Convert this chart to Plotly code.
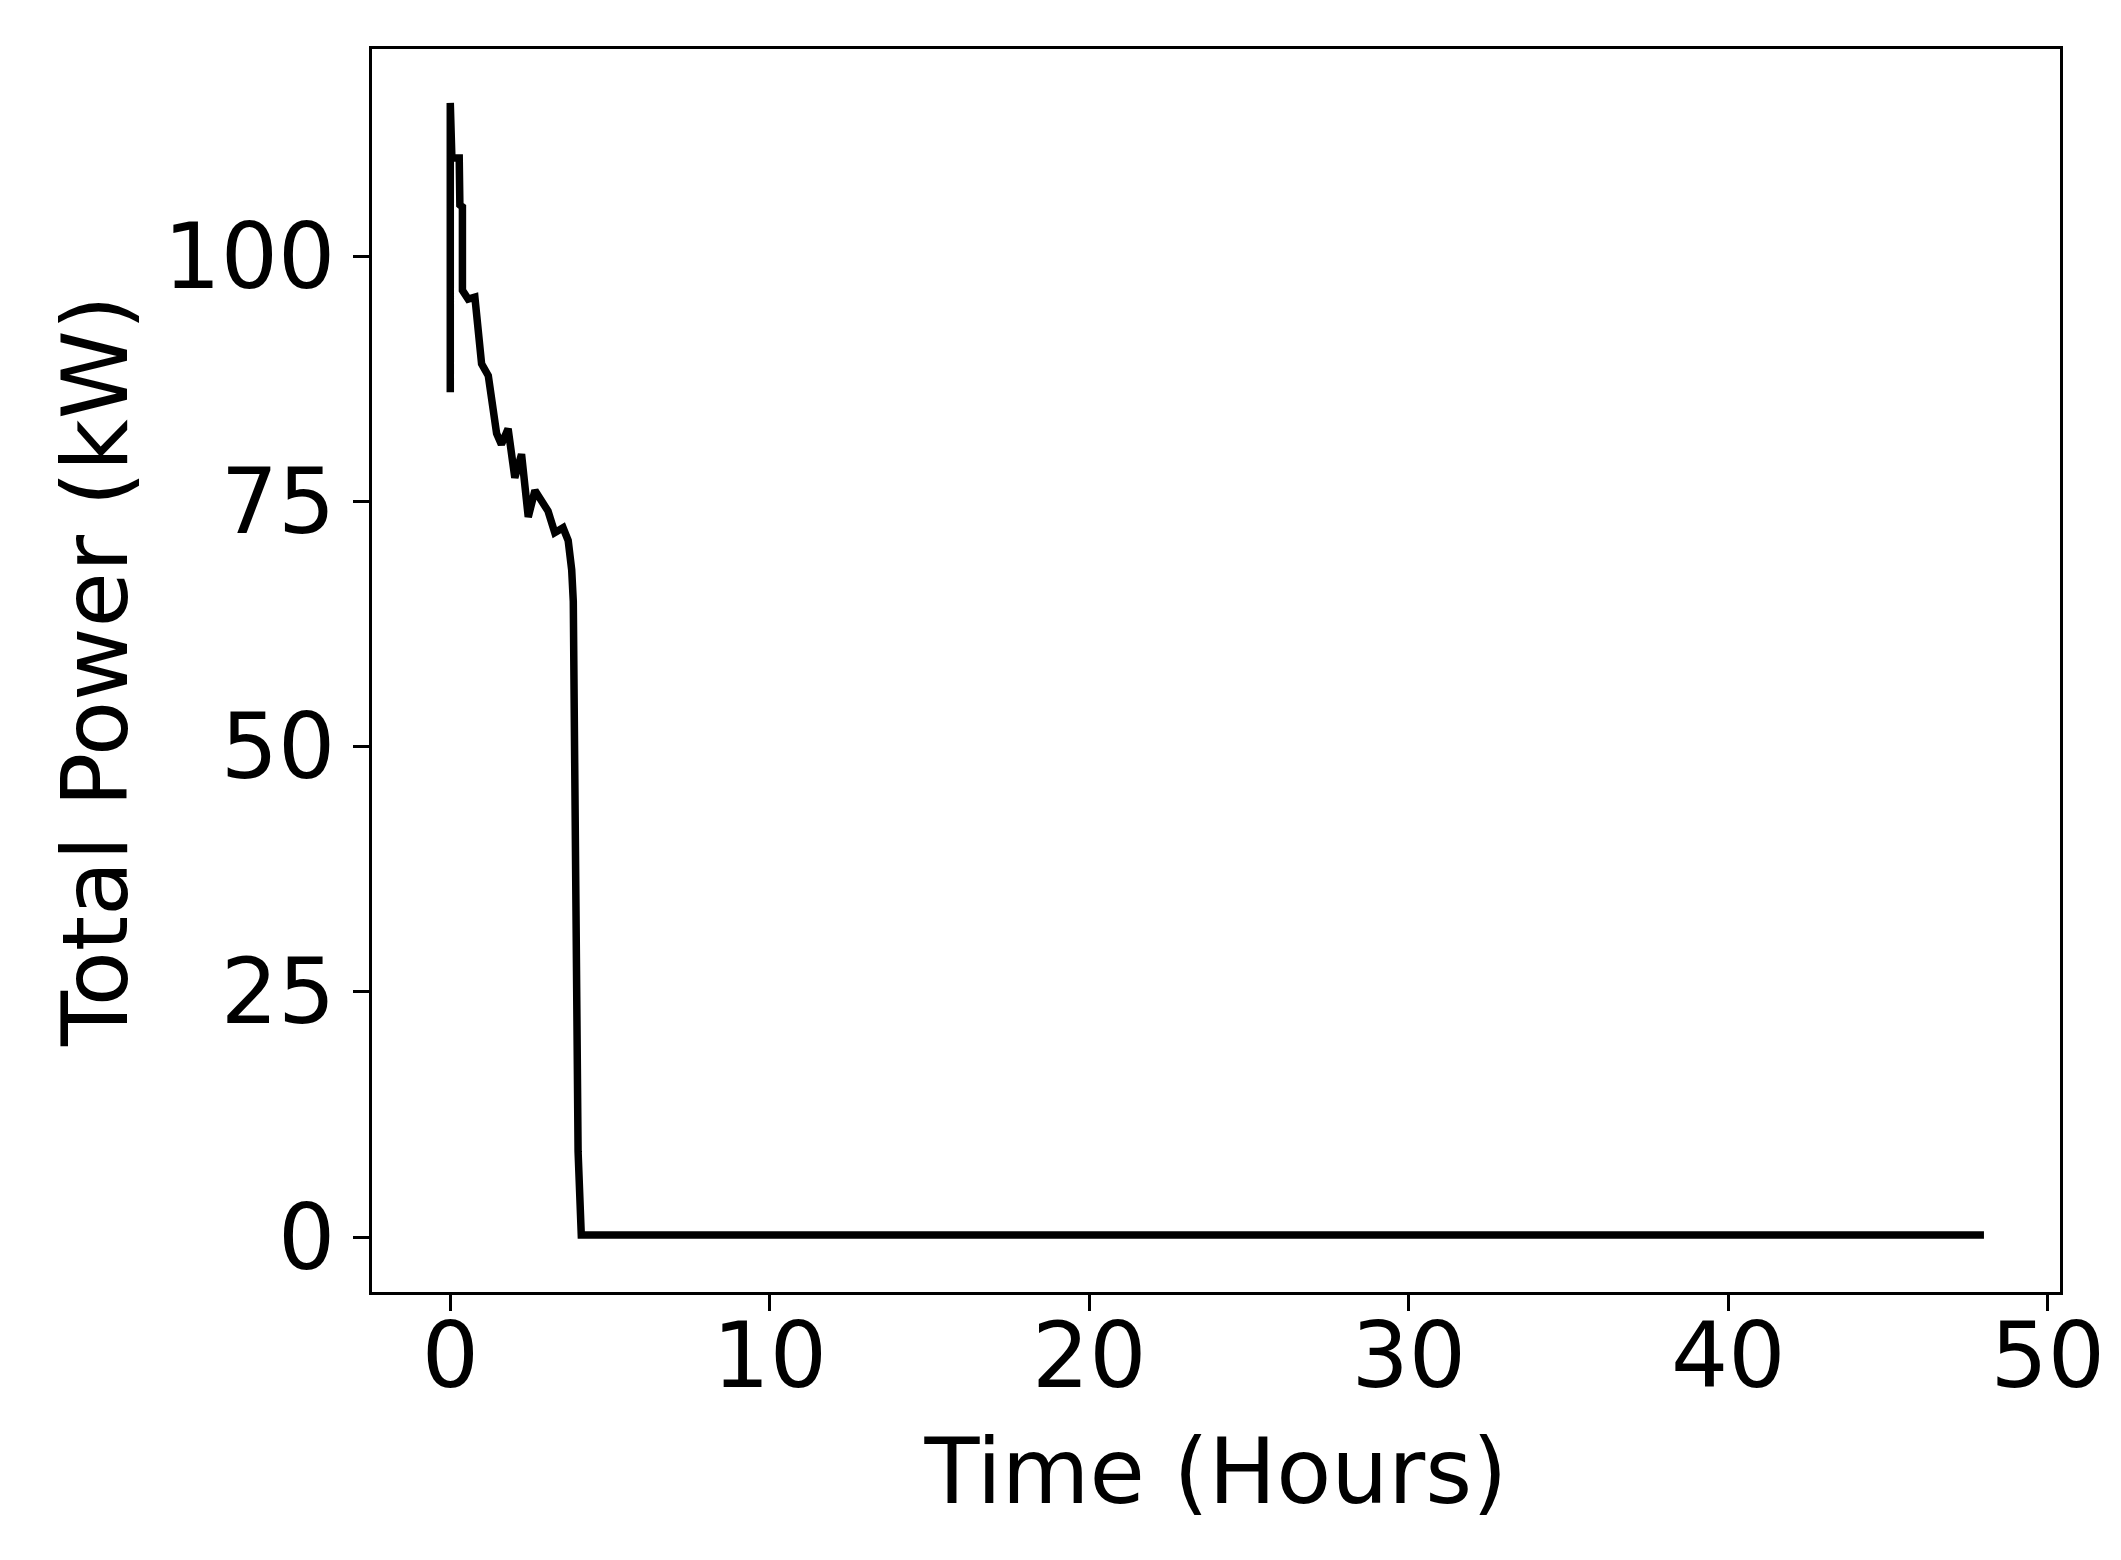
import plotly.graph_objects as go

time_hours = [0, 0, 0.05, 0.28, 0.30, 0.38, 0.38, 0.56, 0.77, 0.98, 1.19, 1.45, 1.60, 1.81,
              2.02, 2.23, 2.44, 2.65, 3.06, 3.27, 3.53, 3.69, 3.80, 3.85, 3.90, 3.95, 4.00,
              4.10, 48.0]
total_power_kw = [86.1, 115.6, 110.0, 110.0, 105.2, 105.0, 96.5, 95.6, 95.8, 89.0, 87.8, 81.9,
                  80.8, 82.4, 77.4, 79.8, 73.4, 76.1, 74.0, 71.8, 72.3, 71.0, 68.0, 64.8, 44.0,
                  29.0, 8.7, 0.2, 0.2]

x_ticks = [0, 10, 20, 30, 40, 50]
y_ticks = [0, 25, 50, 75, 100]

FONT = "DejaVu Sans"
FS = 90

fig = go.Figure()
fig.add_trace(go.Scatter(x=time_hours, y=total_power_kw, mode="lines",
                         line=dict(color="black", width=7.5), showlegend=False))

axis_common = dict(showgrid=False, zeroline=False, showline=True, linecolor="black",
                   linewidth=2.5, mirror=True, ticks="outside", ticklen=16, tickwidth=2.5,
                   tickcolor="black", tickfont=dict(family=FONT, size=FS, color="black"))

fig.update_layout(
    width=2113, height=1552,
    paper_bgcolor="white", plot_bgcolor="white",
    margin=dict(l=364, r=61, t=41, b=268),
    font=dict(family=FONT, size=FS, color="black"),
    xaxis=dict(range=[-2.45, 50.38], tickvals=x_ticks, ticktext=[str(v) for v in x_ticks],
               ticklabelstandoff=-32,
               title=dict(text="Time (Hours)", font=dict(family=FONT, size=FS), standoff=34),
               **axis_common),
    yaxis=dict(range=[-5.6, 121.1], tickvals=y_ticks, ticktext=[str(v) for v in y_ticks],
               title=dict(text="Total Power (kW)", font=dict(family=FONT, size=FS), standoff=6),
               **axis_common),
)

fig.write_html("out.html")
